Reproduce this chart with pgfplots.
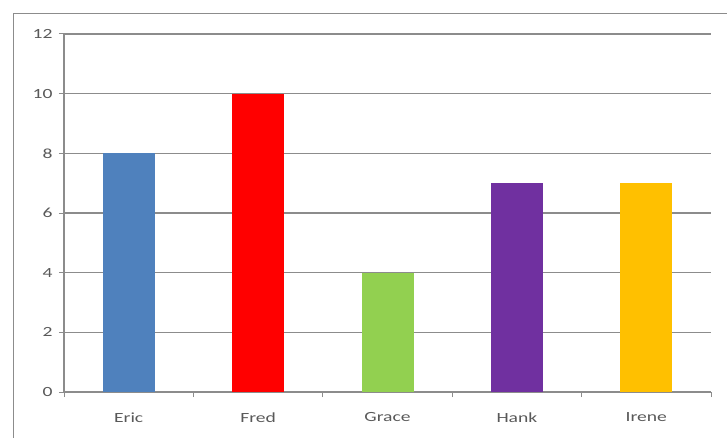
\documentclass[border=0pt]{standalone}
\usepackage{fontspec}
\setmainfont[FakeStretch=1.4]{Carlito}
\usepackage{pgfplots}
\pgfplotsset{compat=1.18}
\definecolor{ericblue}{HTML}{4F81BD}
\definecolor{gracegreen}{HTML}{92D050}
\definecolor{hankpurple}{HTML}{7030A0}
\definecolor{ireneamber}{HTML}{FFC000}
\definecolor{labelgray}{HTML}{595959}
\definecolor{linegray}{HTML}{8C8C8C}
\begin{document}
\begin{tikzpicture}[x=1pt,y=1pt]
\useasboundingbox (0,0) rectangle (727,437);
% chart frame (runs off the page at right and bottom)
\draw[draw=linegray,line width=1.4pt] (13.5,-20) -- (13.5,423.5) -- (760,423.5);
\begin{axis}[
  at={(64pt,45pt)}, anchor=south west,
  scale only axis, width=647pt, height=358pt,
  xmin=-0.5, xmax=4.5, ymin=0, ymax=12,
  axis x line=bottom, axis y line=left,
  axis line style={draw=linegray,line width=1.4pt,-},
  ytick={0,2,...,12},
  ymajorgrids, grid style={draw=linegray,line width=1.5pt},
  tick align=outside,
  major tick length=5pt,
  tick style={draw=linegray,line width=1pt},
  xtick={0,...,4},
  xticklabels={Eric,Fred,Grace,Hank,Irene},
  xtick style={draw=none},
  extra x ticks={-0.5,0.5,1.5,2.5,3.5,4.5},
  extra x tick labels={},
  extra x tick style={xtick style={draw=linegray,line width=1pt}, major tick length=5pt},
  ticklabel style={font=\fontsize{14}{16}\selectfont, text=labelgray},
  /pgf/number format/assume math mode=true,
  yticklabel style={xshift=-3pt},
  xticklabel style={yshift=-12pt},
  ybar, bar width=52pt, bar shift=0pt,
]
\addplot[draw=none, fill=ericblue]   coordinates {(0,8)};
\addplot[draw=none, fill=red]        coordinates {(1,10)};
\addplot[draw=none, fill=gracegreen] coordinates {(2,4)};
\addplot[draw=none, fill=hankpurple] coordinates {(3,7)};
\addplot[draw=none, fill=ireneamber] coordinates {(4,7)};
\end{axis}
\end{tikzpicture}
\end{document}
